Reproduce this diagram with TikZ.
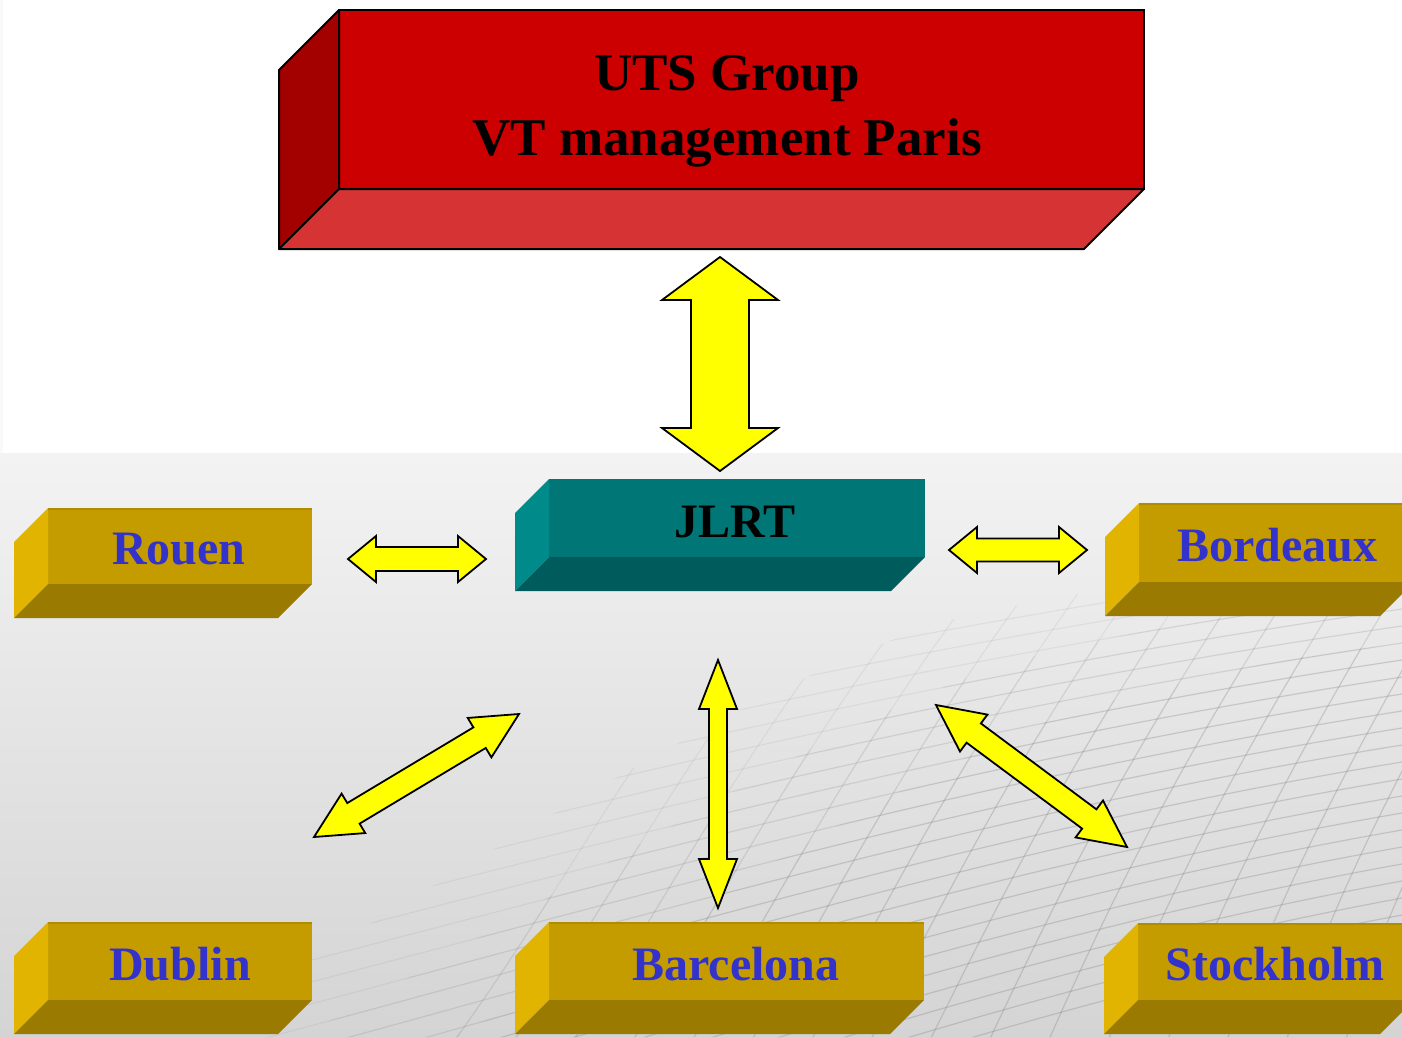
\documentclass[tikz,border=0pt]{standalone}
\usepackage{fontspec}
\setmainfont{Liberation Serif}
\usetikzlibrary{calc}
\definecolor{redfront}{HTML}{CC0000}
\definecolor{redside}{HTML}{A30000}
\definecolor{redbottom}{HTML}{D63434}
\definecolor{tealfront}{HTML}{007676}
\definecolor{tealside}{HTML}{008A8A}
\definecolor{tealbottom}{HTML}{005C5C}
\definecolor{goldfront}{HTML}{C49C00}
\definecolor{goldside}{HTML}{E0B400}
\definecolor{goldbottom}{HTML}{9A7A00}
\definecolor{goldedge}{HTML}{B08C00}
\definecolor{citytext}{HTML}{3333CC}
\definecolor{arrowyellow}{HTML}{FFFF00}
\definecolor{bgtop}{HTML}{F3F3F3}
\definecolor{bgbot}{HTML}{D4D4D4}
\definecolor{meshcol}{HTML}{8A8A8A}

\newcommand\boxfaces[5]{%
  \path[fill=#3,#5] (#1.north west) -- (#1.south west) -- ++(-#2,#2) -- ($(#1.north west)+(-#2,#2)$) -- cycle;
  \path[fill=#4,#5] (#1.south west) -- (#1.south east) -- ++(-#2,#2) -- ($(#1.south west)+(-#2,#2)$) -- cycle;}

\newcommand\dblarrow[5]{%
  \coordinate (hA) at ($(#1)!#3!(#2)$);
  \coordinate (hB) at ($(#2)!#3!(#1)$);
  \path[blockarrow] (#1) -- ($(hA)!#4!90:(#2)$) -- ($(hA)!#5!90:(#2)$)
    -- ($(hB)!#5!-90:(#1)$) -- ($(hB)!#4!-90:(#1)$) -- (#2)
    -- ($(hB)!#4!90:(#1)$) -- ($(hB)!#5!90:(#1)$)
    -- ($(hA)!#5!-90:(#2)$) -- ($(hA)!#4!-90:(#2)$) -- cycle;}

\newcommand\meshlines{%
  \foreach \i in {0,...,26} {
    \draw[meshline] (250,{690+22*\i}) .. controls (650,{600+21*\i}) and (1000,{540+18*\i}) .. (1402,{490+17*\i});
  }
  \foreach \j in {0,...,18} {
    \draw[meshline] ({440+60*\j},1060) .. controls ({560+55*\j},900) and ({620+56*\j},760) .. ({790+52*\j},560);
  }}

\tikzset{
  face/.style={rectangle, inner sep=0pt, outer sep=0pt},
  redface/.style={face, fill=redfront, draw=black, line width=2pt},
  tealface/.style={face, fill=tealfront},
  goldface/.style={face, fill=goldfront},
  blockarrow/.style={fill=arrowyellow, draw=black, line width=1.8pt, line join=miter},
  titletext/.style={anchor=base, inner sep=0pt, font=\fontsize{53}{60}\selectfont\bfseries, text=black},
  jlrttext/.style={anchor=base, inner sep=0pt, font=\fontsize{48}{56}\selectfont\bfseries, text=black},
  citytext/.style={anchor=base, inner sep=0pt, font=\fontsize{48}{56}\selectfont\bfseries, text=citytext},
  meshline/.style={draw=meshcol, line width=1.1pt, opacity=0.13}
}

\begin{document}
\begin{tikzpicture}[x=1pt, y=-1pt]
\useasboundingbox (0,0) rectangle (1402,1037);
\clip (0,0) rectangle (1402,1037);

% background
\fill[white] (0,0) rectangle (1402,453);
\fill[bgtop!50!white] (0,0) rectangle (3,453);
\shade[top color=bgtop, bottom color=bgbot] (0,453) rectangle (1402,1037);

% faint mesh, stepped fade
\begin{scope}
  \clip (180,1037) .. controls (450,880) and (750,680) .. (950,620) .. controls (1120,580) and (1280,565) .. (1402,560) -- (1402,1037) -- cycle;
  \meshlines
\end{scope}
\begin{scope}
  \clip (300,1037) .. controls (560,900) and (820,720) .. (1020,660) .. controls (1170,620) and (1300,605) .. (1402,600) -- (1402,1037) -- cycle;
  \meshlines
\end{scope}
\begin{scope}
  \clip (450,1037) .. controls (700,920) and (900,770) .. (1080,710) .. controls (1220,670) and (1320,650) .. (1402,645) -- (1402,1037) -- cycle;
  \meshlines
\end{scope}

% UTS box
\node[redface, minimum width=805pt, minimum height=179pt] (uts) at (741.5,99.5) {};
\boxfaces{uts}{60}{redside}{redbottom}{draw=black, line width=2pt, line join=round}
\node[titletext] (utsA) at (727,90) {UTS Group};
\node[titletext] (utsB) at (727,155) {VT management Paris};

% JLRT box
\node[tealface, minimum width=376pt, minimum height=78pt] (jlrt) at (737,518) {};
\boxfaces{jlrt}{34}{tealside}{tealbottom}{}
\node[jlrttext] (jlrtT) at (735,537) {JLRT};

% city boxes
\node[goldface, minimum width=264pt, minimum height=76pt] (rouen) at (180,546) {};
\node[goldface, minimum width=275pt, minimum height=79pt] (bordeaux) at (1276.5,542.5) {};
\node[goldface, minimum width=264pt, minimum height=78pt] (dublin) at (180,961) {};
\node[goldface, minimum width=375pt, minimum height=78pt] (barcelona) at (736.5,961) {};
\node[goldface, minimum width=276pt, minimum height=77pt] (stockholm) at (1276,961.5) {};
\foreach \n in {rouen,bordeaux,dublin,barcelona,stockholm} {
  \boxfaces{\n}{34}{goldside}{goldbottom}{}
  \draw[goldedge, line width=2pt] ([yshift=-1pt]\n.north west) -- ([yshift=-1pt]\n.north east);
}
\node[citytext] (rouenT) at (179,564) {Rouen};
\node[citytext] (bordeauxT) at (1277,561) {Bordeaux};
\node[citytext] (dublinT) at (180,980) {Dublin};
\node[citytext] (barcelonaT) at (736,980) {Barcelona};
\node[citytext] (stockholmT) at (1275,980) {Stockholm};

% arrow end points
\coordinate (a1s) at (720,257);  \coordinate (a1e) at (720,471);
\coordinate (a2s) at (348,559);  \coordinate (a2e) at (486,559);
\coordinate (a3s) at (949,550);  \coordinate (a3e) at (1087,550);
\coordinate (a4s) at (314,837);  \coordinate (a4e) at (519,714);
\coordinate (a5s) at (718,660);  \coordinate (a5e) at (718,908);
\coordinate (a6s) at (936,705);  \coordinate (a6e) at (1127,847);

\dblarrow{a1s}{a1e}{43pt}{58pt}{29pt}
\dblarrow{a2s}{a2e}{28pt}{23pt}{12pt}
\dblarrow{a3s}{a3e}{28pt}{23pt}{11.5pt}
\dblarrow{a4s}{a4e}{46pt}{23pt}{12pt}
\dblarrow{a5s}{a5e}{49pt}{19pt}{9pt}
\dblarrow{a6s}{a6e}{47pt}{23pt}{12pt}
\end{tikzpicture}
\end{document}
